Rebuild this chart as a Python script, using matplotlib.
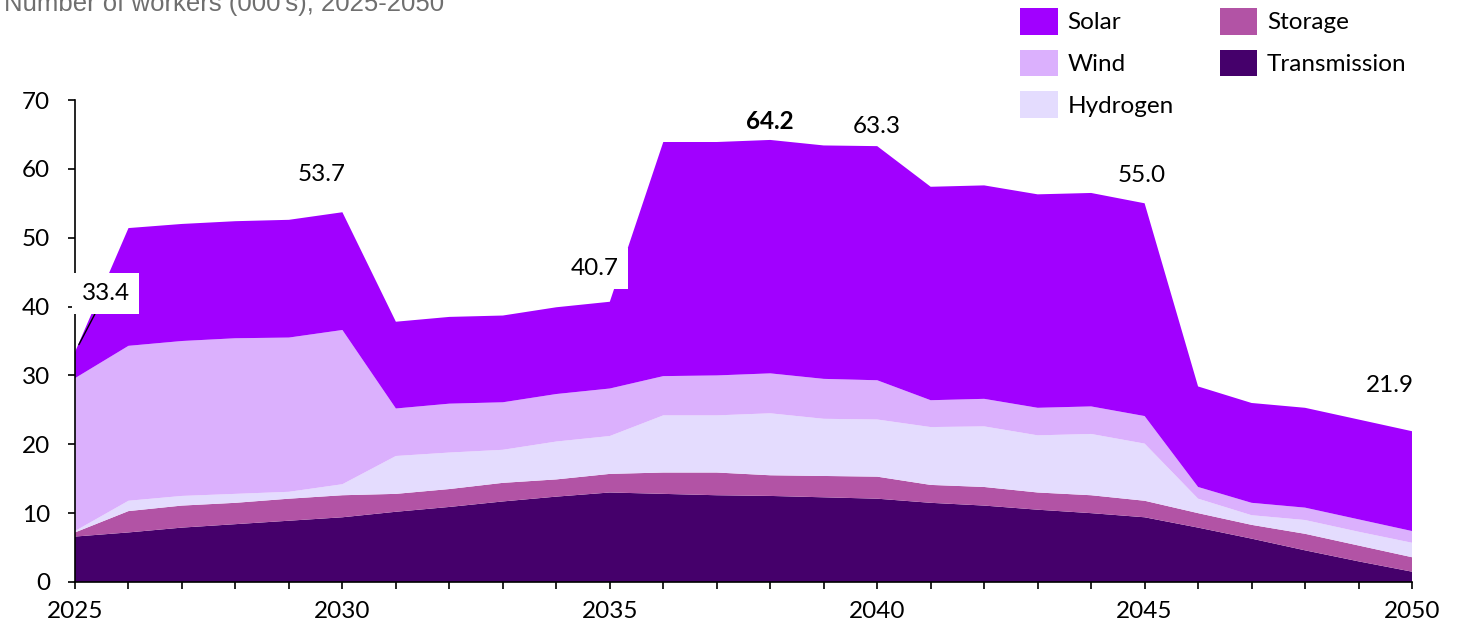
import matplotlib
matplotlib.use('Agg')
import matplotlib.pyplot as plt
from matplotlib.patches import Patch
import numpy as np

years = list(range(2025, 2051))
# number of workers (000's) by sector
transmission = [6.6, 7.2, 7.9, 8.4, 8.9, 9.4, 10.2, 10.9, 11.7, 12.4, 13.0, 12.8, 12.6,
                12.5, 12.3, 12.1, 11.5, 11.1, 10.5, 10.0, 9.4, 7.9, 6.3, 4.6, 3.0, 1.5]
storage = [0.6, 3.1, 3.2, 3.1, 3.2, 3.2, 2.6, 2.6, 2.7, 2.5, 2.7, 3.1, 3.3,
           3.0, 3.1, 3.2, 2.6, 2.7, 2.5, 2.6, 2.4, 2.1, 2.0, 2.4, 2.3, 2.1]
hydrogen = [0.2, 1.5, 1.4, 1.3, 1.0, 1.6, 5.5, 5.3, 4.8, 5.5, 5.5, 8.3, 8.3,
            9.0, 8.3, 8.3, 8.4, 8.8, 8.3, 8.9, 8.3, 2.1, 1.4, 2.0, 2.0, 2.1]
wind = [22.2, 22.5, 22.5, 22.6, 22.4, 22.4, 6.9, 7.1, 6.9, 6.9, 6.9, 5.7, 5.8,
        5.8, 5.8, 5.7, 3.9, 4.0, 4.0, 4.0, 4.0, 1.7, 1.8, 1.8, 1.8, 1.7]
solar = [3.8, 17.1, 17.0, 17.0, 17.1, 17.1, 12.6, 12.6, 12.6, 12.6, 12.6, 34.0, 33.9,
         33.9, 33.9, 34.0, 31.0, 31.0, 31.0, 31.0, 30.9, 14.6, 14.5, 14.5, 14.5, 14.5]

labels = ['Solar', 'Wind', 'Hydrogen', 'Storage', 'Transmission']
colors = {'Solar': '#a100ff', 'Wind': '#dbb0fd', 'Hydrogen': '#e4dcfe',
          'Storage': '#b253a5', 'Transmission': '#45006b'}

# labelled totals: year -> offset (points)
label_years = [2025, 2030, 2035, 2038, 2040, 2045, 2050]
label_offsets = [(22, 42), (-15, 27), (-11, 24), (0, 13), (0, 14), (-2, 20), (-16, 33)]

plt.rcParams['font.family'] = ['Lato', 'DejaVu Sans']
fs = 17.5

fig = plt.figure(figsize=(14.65, 6.3), dpi=100)
ax = fig.add_axes([75 / 1465, 48 / 630, 1337 / 1465, 482 / 630])

ax.stackplot(years, transmission, storage, hydrogen, wind, solar,
             colors=[colors['Transmission'], colors['Storage'], colors['Hydrogen'],
                     colors['Wind'], colors['Solar']], linewidth=0)

total = np.array(transmission) + np.array(storage) + np.array(hydrogen) + np.array(wind) + np.array(solar)

for yr, (dx, dy) in zip(label_years, label_offsets):
    v = total[years.index(yr)]
    kw = dict(fontsize=fs, ha='center', va='center', textcoords='offset points')
    if yr == 2038:
        kw['fontweight'] = 'bold'
    if yr in (2025, 2035):
        kw['bbox'] = dict(boxstyle='square,pad=0.4', fc='white', ec='none')
    if yr == 2025:
        kw['arrowprops'] = dict(arrowstyle='-', color='black', lw=1, shrinkA=0, shrinkB=6)
    ax.annotate(f'{v:.1f}', xy=(yr, v), xytext=(dx, dy), **kw)

ax.set_xlim(2025, 2050)
ax.set_ylim(0, 70)
ax.set_yticks(range(0, 71, 10))
ax.set_xticks(years)
ax.set_xticklabels([str(y) if y % 5 == 0 else '' for y in years])
ax.tick_params(axis='both', labelsize=fs, length=5, width=1.2, color='black')
ax.tick_params(axis='y', pad=13)
ax.tick_params(axis='x', pad=9)
for s in ['top', 'right']:
    ax.spines[s].set_visible(False)
for s in ['left', 'bottom']:
    ax.spines[s].set_linewidth(1.2)

handles = [Patch(facecolor=colors[l], edgecolor='none', label=l) for l in labels]
fig.legend(handles=handles, ncol=2, loc='upper left', bbox_to_anchor=(998 / 1465, 1.022),
           frameon=False, fontsize=fs, handlelength=1.55, handleheight=1.3,
           handletextpad=0.4, labelspacing=0.62, columnspacing=1.9)

fig.text(4 / 1465, 1 - 11 / 630, "Number of workers (000's), 2025-2050", fontsize=18.5, color='#6f6f6f',
         family=['Liberation Sans', 'DejaVu Sans'], ha='left', va='baseline')

fig.savefig('out.png', dpi=100)
